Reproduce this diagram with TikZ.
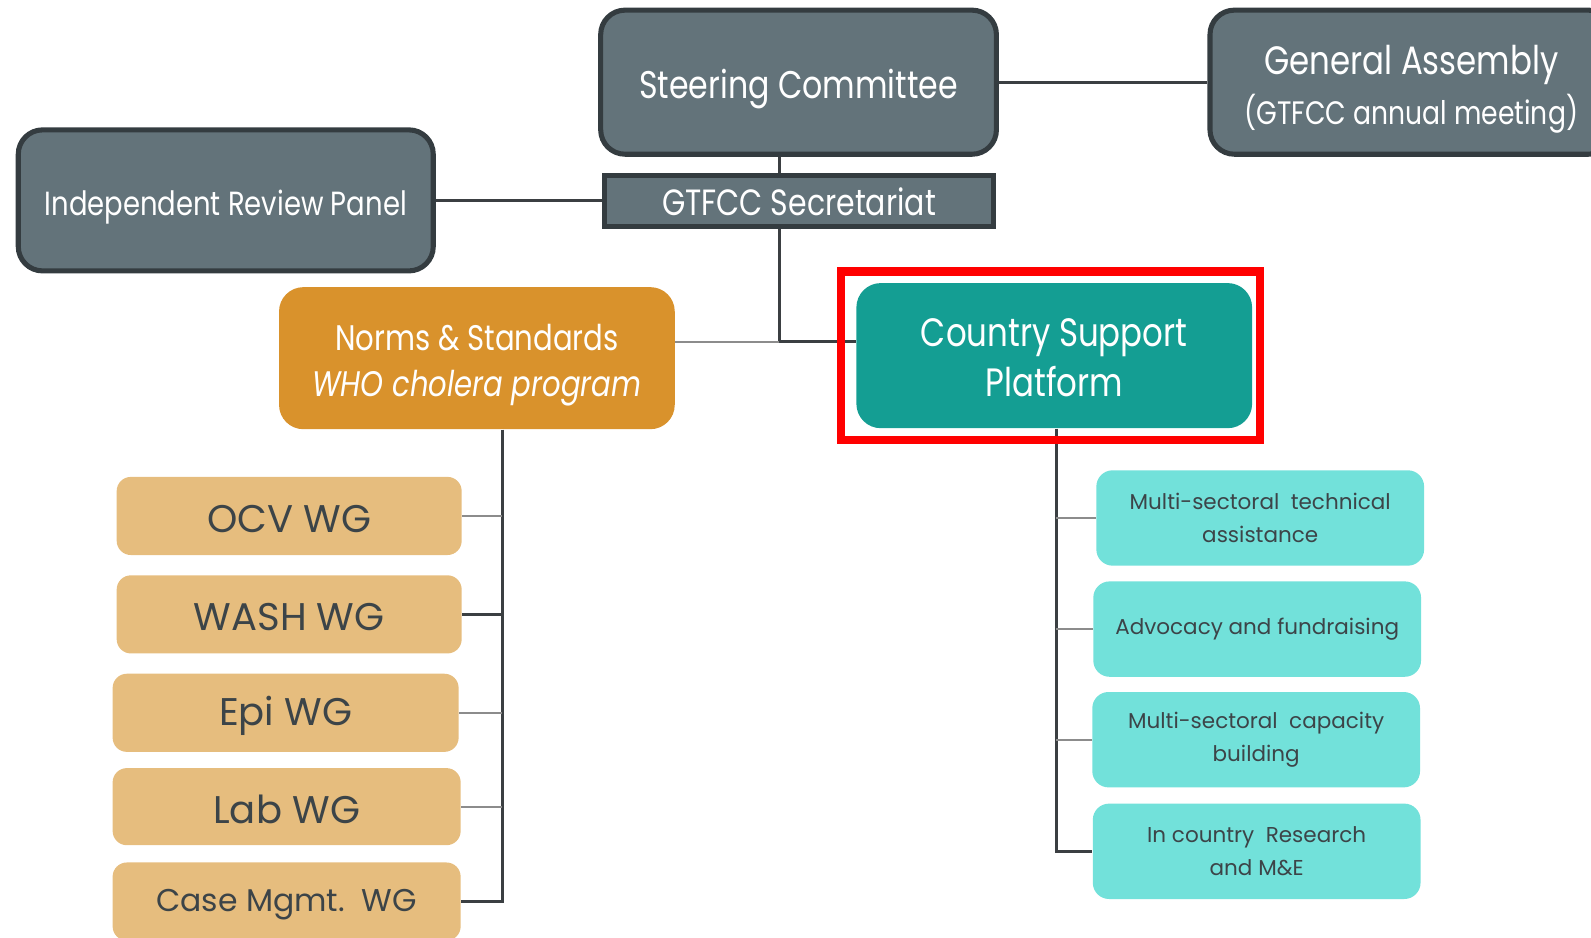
\documentclass[tikz,border=0pt]{standalone}
\usepackage{fontspec}
\setmainfont{Poppins}
\newfontfamily\twfont[FakeStretch=0.82]{Poppins}
\usetikzlibrary{fit}
\newcommand{\dropby}[2]{\raisebox{-#1}[\height][\depth]{#2}}
\definecolor{govfill}{RGB}{99,115,122}
\definecolor{govline}{RGB}{52,60,64}
\definecolor{nsfill}{RGB}{217,146,44}
\definecolor{cspfill}{RGB}{20,158,147}
\definecolor{wgfill}{RGB}{230,189,126}
\definecolor{csfill}{RGB}{114,225,218}
\definecolor{txtdark}{RGB}{60,68,72}
\definecolor{linedark}{RGB}{59,63,66}
\definecolor{linegray}{RGB}{140,140,140}
\tikzset{
  govbox/.style={draw=govline, line width=2.5pt, fill=govfill, text=white, rounded corners=12pt, align=center, inner sep=0pt},
  topbox/.style={text=white, rounded corners=12pt, align=center, inner sep=0pt, minimum width=195pt},
  wgbox/.style={fill=wgfill, text=txtdark, rounded corners=7pt, minimum width=170pt, minimum height=38.5pt, inner sep=0pt, font=\fontsize{19}{23}\selectfont},
  csbox/.style={fill=csfill, text=txtdark, rounded corners=8pt, minimum width=161.5pt, minimum height=47pt, align=center, inner sep=0pt, font=\fontsize{10.6}{16.5}\selectfont},
  mainlink/.style={draw=linedark, line width=1.5pt},
  sublink/.style={draw=linegray, line width=1pt}
}
\begin{document}
\begin{tikzpicture}[x=0.5pt, y=-0.5pt]
\useasboundingbox (0,0) rectangle (1568,924);
\node[govbox, minimum width=195pt, minimum height=71pt, font=\twfont\fontsize{19}{23}\selectfont] (sc) at (787,81) {\dropby{3.5pt}{Steering Committee}};
\node[govbox, minimum width=198.5pt, minimum height=71pt, font=\twfont\fontsize{19.5}{25}\selectfont] (ga) at (1391,81) {\dropby{3.5pt}{General Assembly}\\\dropby{3.5pt}{\fontsize{16}{25}\selectfont (GTFCC annual meeting)}};
\node[govbox, minimum width=204.5pt, minimum height=69.5pt, font=\twfont\fontsize{16.5}{20}\selectfont] (irp) at (222.5,197.5) {\dropby{3.5pt}{Independent Review Panel}};
\node[govbox, sharp corners, minimum width=191.5pt, minimum height=25pt, font=\twfont\fontsize{18}{20}\selectfont] (secr) at (787.5,198) {\dropby{0.5pt}{GTFCC Secretariat}};
\node[topbox, fill=nsfill, minimum height=70pt, font=\twfont\fontsize{17.5}{22.5}\selectfont] (norms) at (470,353) {\dropby{3.5pt}{Norms \& Standards}\\\dropby{3.5pt}{\textit{WHO cholera program}}};
\node[topbox, fill=cspfill, minimum height=71.5pt, font=\twfont\fontsize{19.5}{24.5}\selectfont] (csp) at (1039,350.5) {\dropby{1pt}{Country Support}\\\dropby{1pt}{Platform}};
\node[wgbox] (ocv) at (285,508.5) {\dropby{1.5pt}{OCV WG}};
\node[wgbox] (wash) at (285,605.5) {\dropby{1.5pt}{WASH WG}};
\node[wgbox, minimum width=170.5pt] (epi) at (281.5,702.5) {\dropby{1.5pt}{Epi WG}};
\node[wgbox, minimum width=171.5pt, minimum height=38pt] (lab) at (282.5,795) {\dropby{1.5pt}{Lab WG}};
\node[wgbox, minimum width=171.5pt, font=\fontsize{15.5}{20}\selectfont] (case) at (282.5,888.5) {\dropby{1.5pt}{Case Mgmt.~~WG}};
\node[csbox] (mta) at (1242,510.5) {Multi-sectoral~~technical\\assistance};
\node[csbox] (adv) at (1239,620) {Advocacy and fundraising};
\node[csbox] (mcb) at (1238,729) {Multi-sectoral~~capacity\\building};
\node[csbox] (res) at (1238.5,839) {In country~~Research\\and M\&E};
\coordinate (hub) at (768,337);
\coordinate (nsp) at (495,0);
\coordinate (cssp) at (1041,0);
\draw[mainlink] (sc.east) -- (ga.west);
\draw[mainlink] (hub |- sc.south) -- (hub |- secr.north);
\draw[mainlink] (irp.east) -- (irp.east -| secr.west);
\draw[mainlink] (hub |- secr.south) -- (hub) -- (hub -| csp.west);
\draw[sublink] (hub) -- (hub -| norms.east);
\draw[mainlink] (nsp |- norms.south) |- (case.east);
\draw[mainlink] (wash.east) -- (wash.east -| nsp);
\foreach \b in {ocv,epi,lab} \draw[sublink] (\b.east) -- (\b.east -| nsp);
\draw[mainlink] (cssp |- csp.south) |- (res.west);
\foreach \b in {mta,adv,mcb} \draw[sublink] (\b.west) -- (\b.west -| cssp);
\node[draw=red, line width=4pt, fit=(csp), inner xsep=5.5pt, inner ysep=5.5pt, xshift=-2pt] (hl) {};
\end{tikzpicture}
\end{document}
